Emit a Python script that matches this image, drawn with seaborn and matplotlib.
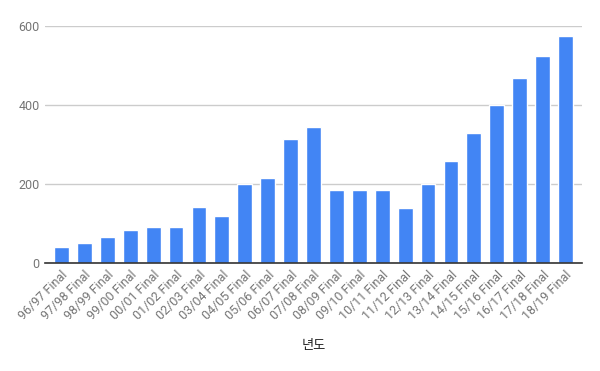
import matplotlib
matplotlib.use("Agg")
import matplotlib.pyplot as plt
import seaborn as sns
import pandas as pd

seasons = ["96/97 Final", "97/98 Final", "98/99 Final", "99/00 Final", "00/01 Final",
           "01/02 Final", "02/03 Final", "03/04 Final", "04/05 Final", "05/06 Final",
           "06/07 Final", "07/08 Final", "08/09 Final", "09/10 Final", "10/11 Final",
           "11/12 Final", "12/13 Final", "13/14 Final", "14/15 Final", "15/16 Final",
           "16/17 Final", "17/18 Final", "18/19 Final"]
values = [40, 50, 65, 83, 90, 90, 141, 120, 200, 215, 315, 345, 185, 185, 185,
          140, 200, 258, 330, 400, 468, 525, 575]
y_ticks = [0, 200, 400, 600]

df = pd.DataFrame({"season": seasons, "value": values})

sns.set_theme(style="white")
plt.rcParams['font.family'] = ['Roboto', 'Noto Sans CJK KR', 'DejaVu Sans']

fig = plt.figure(figsize=(6, 3.71), dpi=100)
ax = fig.add_axes([0.075, 0.291, 0.895, 0.639])

sns.barplot(data=df, x="season", y="value", color="#4285F4", width=0.65,
            saturation=1, ax=ax, zorder=3)

ax.set_ylim(0, 600)
ax.set_xlim(-0.72, len(seasons) - 1 + 0.72)
ax.set_yticks(y_ticks)
ax.set_yticklabels([str(t) for t in y_ticks], color="#757575", fontsize=9)
ax.yaxis.grid(True, color="#cccccc", linewidth=1, zorder=0)
ax.set_axisbelow(True)
for s in ["top", "right", "left"]:
    ax.spines[s].set_visible(False)
ax.spines["bottom"].set_color("#333333")
ax.spines["bottom"].set_linewidth(1.2)
ax.spines["bottom"].set_zorder(4)
ax.tick_params(axis="both", length=0, pad=4)
plt.setp(ax.get_xticklabels(), rotation=45, ha="right", rotation_mode="anchor",
         color="#757575", fontsize=9)
ax.set_ylabel("")
ax.set_xlabel("년도", fontsize=9.5, color="#222222", labelpad=12,
              family=['Noto Sans CJK KR', 'DejaVu Sans'])

fig.savefig("out.png", dpi=100)
